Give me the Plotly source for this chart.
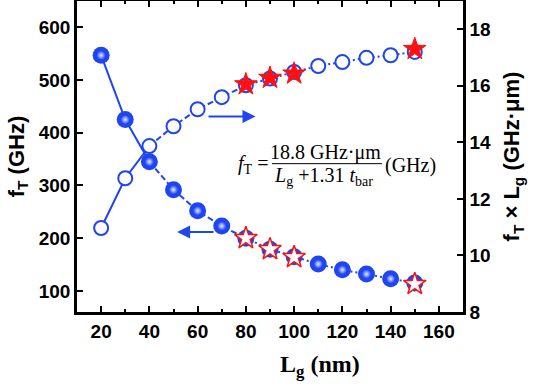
import plotly.graph_objects as go

# ---- data ----
Lg = [20, 30, 40, 50, 60, 70, 80, 90, 100, 110, 120, 130, 140, 150]
fT = [547, 425, 345, 292, 252, 223, 200, 179, 165, 151, 140, 132, 123, 115]
fT_Lg = [10.97, 12.73, 13.87, 14.57, 15.17, 15.6, 16.02, 16.26, 16.49, 16.7, 16.84, 16.99, 17.08, 17.2]

star_Lg = [80, 90, 100, 150]
star_fT = [200, 179, 164, 113]
star_fT_Lg = [16.05, 16.28, 16.43, 17.3]

x_ticks = [20, 40, 60, 80, 100, 120, 140, 160]
y_ticks = [100, 200, 300, 400, 500, 600]
y2_ticks = [8, 10, 12, 14, 16, 18]

BLUE = "#1f45f0"
RED = "#ff1010"
SANS = "Liberation Sans, Arial, sans-serif"
SERIF = "Liberation Serif, Times New Roman, serif"

fig = go.Figure()

# segments: solid, dashed, dotted
segs = [(0, 3, "solid"), (2, 7, "6px,3px"), (6, 14, "2px,3px")]
for a, b, d in segs:
    fig.add_trace(go.Scatter(x=Lg[a:b], y=fT[a:b], mode="lines",
                             line=dict(color=BLUE, width=2, dash=d), yaxis="y"))
    fig.add_trace(go.Scatter(x=Lg[a:b], y=fT_Lg[a:b], mode="lines",
                             line=dict(color=BLUE, width=2, dash=d), yaxis="y2"))

# spheres
fig.add_trace(go.Scatter(x=Lg, y=fT, mode="markers", yaxis="y",
                         marker=dict(symbol="circle", size=17, color=BLUE,
                                     line=dict(width=0))))
fig.add_trace(go.Scatter(x=Lg, y=fT, mode="markers", yaxis="y",
                         marker=dict(symbol="circle", size=9, color=BLUE,
                                     gradient=dict(type="radial", color="#e8ecff"),
                                     line=dict(width=0))))
# open circles
fig.add_trace(go.Scatter(x=Lg, y=fT_Lg, mode="markers", yaxis="y2",
                         marker=dict(symbol="circle", size=14, color="white",
                                     line=dict(color=BLUE, width=2))))
# stars
fig.add_trace(go.Scatter(x=star_Lg, y=star_fT, mode="markers", yaxis="y",
                         marker=dict(symbol="star", size=17, color="white",
                                     line=dict(color=RED, width=1.5))))
fig.add_trace(go.Scatter(x=star_Lg, y=star_fT_Lg, mode="markers", yaxis="y2",
                         marker=dict(symbol="star", size=17, color=RED,
                                     line=dict(color=RED, width=1))))

axis_common = dict(showline=True, linewidth=2.5, linecolor="black",
                   ticks="inside", ticklen=6, tickwidth=2, tickcolor="black",
                   showgrid=False, zeroline=False, automargin=False,
                   tickfont=dict(family=SANS, size=19, color="black", weight="bold"))

fig.update_layout(
    width=542, height=386,
    margin=dict(l=77, r=79, t=1, b=74, autoexpand=False),
    plot_bgcolor="white", paper_bgcolor="white",
    showlegend=False,
    xaxis=dict(range=[10, 170], tickvals=x_ticks, mirror="ticks",
               minor=dict(dtick=10, tick0=0, ticks="inside", ticklen=3, tickwidth=2, tickcolor="black"),
               **axis_common),
    yaxis=dict(range=[60, 650], tickvals=y_ticks,
               title=dict(text="<b>f<sub>T</sub> (GHz)</b>", standoff=9,
                          font=dict(family=SANS, size=22, color="black")),
               **axis_common),
    yaxis2=dict(range=[8, 19], tickvals=y2_ticks, overlaying="y", side="right",
                title=dict(text="<b>f<sub>T</sub> × L<sub>g</sub> (GHz·μm)</b>", standoff=14,
                           font=dict(family=SANS, size=22, color="black")),
                **axis_common),
)

# x-axis title (offset to the right as in the reference)
fig.add_annotation(x=0.63, y=-0.175, xref="paper", yref="paper", xanchor="center", yanchor="middle",
                   text="<b>L<sub>g</sub> (nm)</b>", showarrow=False,
                   font=dict(family=SERIF, size=24, color="black"))

# formula
ffont = dict(family=SERIF, size=20, color="black")
fig.add_annotation(x=90.0, y=340, xref="x", yref="y", xanchor="right", yanchor="middle",
                   text="<i>f</i><sub>T</sub> =", showarrow=False, font=ffont)
fig.add_annotation(x=113.2, y=362, xref="x", yref="y", xanchor="center", yanchor="middle",
                   text="18.8 GHz·μm", showarrow=False, font=ffont)
fig.add_annotation(x=112, y=318, xref="x", yref="y", xanchor="center", yanchor="middle",
                   text="<i>L</i><sub>g</sub> +1.31 <i>t</i><sub>bar</sub>", showarrow=False, font=ffont)
fig.add_annotation(x=136.8, y=338, xref="x", yref="y", xanchor="left", yanchor="middle",
                   text="(GHz)", showarrow=False, font=ffont)
fig.add_shape(type="line", x0=90.8, x1=136.4, y0=341.4, y1=341.4, xref="x", yref="y",
              line=dict(color="black", width=1))

# arrows
fig.add_annotation(x=84, y=431, ax=63.9, ay=431, xref="x", yref="y", axref="x", ayref="y",
                   text="", showarrow=True, arrowhead=2, arrowsize=1.3, arrowwidth=2,
                   arrowcolor=BLUE)
fig.add_annotation(x=51.5, y=212, ax=67.2, ay=212, xref="x", yref="y", axref="x", ayref="y",
                   text="", showarrow=True, arrowhead=2, arrowsize=1.3, arrowwidth=2,
                   arrowcolor=BLUE)

fig.write_html("out.html", config={"displayModeBar": False},
               post_script="document.body.style.margin='0';")
